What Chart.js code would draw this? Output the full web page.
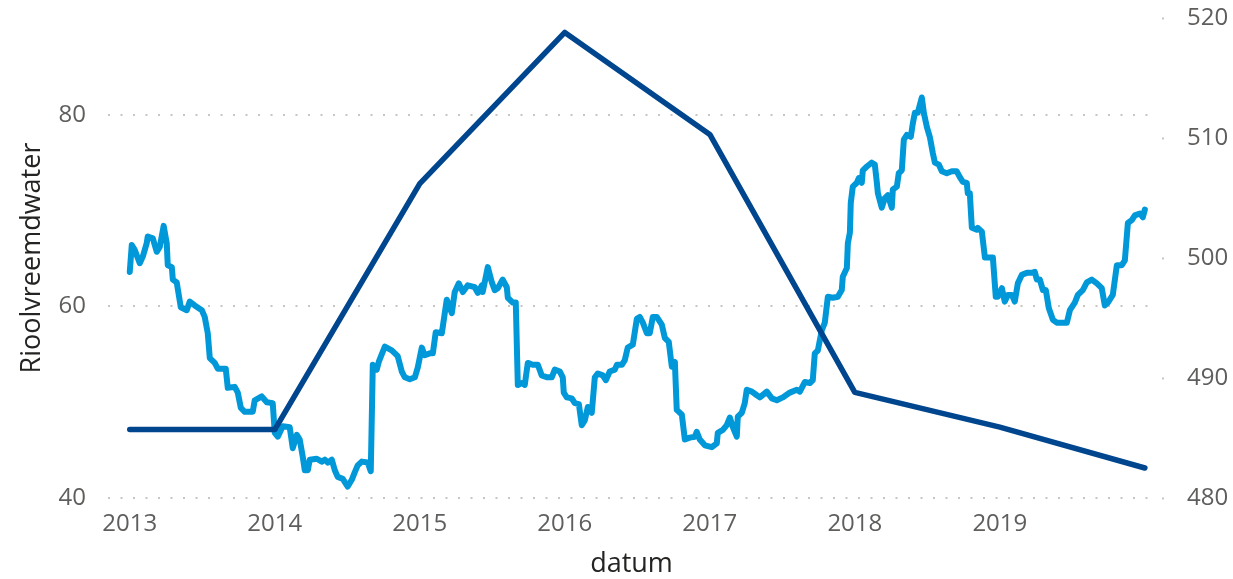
<!DOCTYPE html>
<html>
<head>
<meta charset="utf-8">
<title>Rioolvreemdwater</title>
<script src="https://cdn.jsdelivr.net/npm/chart.js@4/dist/chart.umd.min.js"></script>
<style>
    html, body { margin: 0; padding: 0; background: #fff; }
    #wrap { width: 1233px; height: 579px; position: relative; }
</style>
</head>
<body>
<div id="wrap"><canvas id="chart"></canvas></div>
<script>
// Rioolvreemdwater (linker as), datum als decimaal jaar
const jarenRvw = [
    2013.000, 2013.014, 2013.034, 2013.069, 2013.090, 2013.117, 2013.124, 2013.159, 2013.186, 2013.207,
    2013.234, 2013.255, 2013.262, 2013.290, 2013.297, 2013.324, 2013.338, 2013.352, 2013.393, 2013.414,
    2013.448, 2013.497, 2013.517, 2013.538, 2013.552, 2013.586, 2013.607, 2013.662, 2013.676, 2013.724,
    2013.745, 2013.766, 2013.793, 2013.848, 2013.862, 2013.910, 2013.945, 2013.986, 2014.000, 2014.021,
    2014.055, 2014.103, 2014.124, 2014.152, 2014.172, 2014.193, 2014.207, 2014.228, 2014.241, 2014.290,
    2014.324, 2014.345, 2014.366, 2014.393, 2014.414, 2014.434, 2014.469, 2014.503, 2014.531, 2014.552,
    2014.572, 2014.600, 2014.641, 2014.662, 2014.676, 2014.703, 2014.717, 2014.759, 2014.807, 2014.848,
    2014.876, 2014.897, 2014.931, 2014.966, 2014.986, 2015.014, 2015.034, 2015.069, 2015.090, 2015.110,
    2015.152, 2015.186, 2015.221, 2015.241, 2015.269, 2015.297, 2015.331, 2015.379, 2015.400, 2015.428,
    2015.434, 2015.469, 2015.497, 2015.517, 2015.538, 2015.572, 2015.600, 2015.607, 2015.641, 2015.662,
    2015.676, 2015.703, 2015.724, 2015.745, 2015.779, 2015.814, 2015.841, 2015.876, 2015.910, 2015.931,
    2015.966, 2015.986, 2015.993, 2016.014, 2016.048, 2016.069, 2016.097, 2016.117, 2016.138, 2016.159,
    2016.186, 2016.207, 2016.228, 2016.262, 2016.283, 2016.310, 2016.345, 2016.359, 2016.393, 2016.414,
    2016.434, 2016.469, 2016.497, 2016.517, 2016.538, 2016.566, 2016.586, 2016.607, 2016.634, 2016.669,
    2016.690, 2016.717, 2016.738, 2016.759, 2016.772, 2016.807, 2016.828, 2016.862, 2016.897, 2016.910,
    2016.931, 2016.966, 2017.014, 2017.048, 2017.055, 2017.090, 2017.117, 2017.138, 2017.159, 2017.186,
    2017.193, 2017.221, 2017.241, 2017.255, 2017.290, 2017.317, 2017.345, 2017.393, 2017.428, 2017.462,
    2017.503, 2017.552, 2017.600, 2017.621, 2017.655, 2017.690, 2017.710, 2017.724, 2017.745, 2017.772,
    2017.793, 2017.814, 2017.848, 2017.883, 2017.910, 2017.917, 2017.945, 2017.952, 2017.966, 2017.972,
    2017.986, 2018.014, 2018.028, 2018.048, 2018.055, 2018.083, 2018.117, 2018.138, 2018.152, 2018.159,
    2018.186, 2018.207, 2018.228, 2018.255, 2018.262, 2018.290, 2018.303, 2018.324, 2018.338, 2018.359,
    2018.386, 2018.400, 2018.414, 2018.434, 2018.462, 2018.476, 2018.497, 2018.517, 2018.538, 2018.552,
    2018.579, 2018.600, 2018.634, 2018.669, 2018.703, 2018.724, 2018.745, 2018.772, 2018.779, 2018.793,
    2018.807, 2018.841, 2018.848, 2018.876, 2018.897, 2018.952, 2018.972, 2018.986, 2019.014, 2019.034,
    2019.055, 2019.083, 2019.103, 2019.124, 2019.152, 2019.186, 2019.221, 2019.241, 2019.255, 2019.276,
    2019.297, 2019.317, 2019.338, 2019.366, 2019.393, 2019.462, 2019.483, 2019.517, 2019.538, 2019.572,
    2019.600, 2019.634, 2019.669, 2019.703, 2019.724, 2019.745, 2019.779, 2019.807, 2019.841, 2019.862,
    2019.883, 2019.910, 2019.931, 2019.966, 2019.986, 2020.000
];
const waardenRvw = [
    63.6, 66.4, 65.9, 64.5, 65.2, 66.6, 67.3, 67.1, 65.7, 66.2,
    68.4, 66.6, 64.3, 64.1, 62.8, 62.5, 61.2, 59.9, 59.6, 60.5,
    60.1, 59.6, 58.9, 57.2, 54.6, 54.1, 53.5, 53.5, 51.5, 51.6,
    51.0, 49.4, 49.0, 49.0, 50.2, 50.6, 50.0, 49.9, 46.8, 46.4,
    47.5, 47.4, 45.2, 46.6, 46.1, 44.3, 42.9, 42.9, 44.0, 44.1,
    43.8, 44.0, 43.7, 44.0, 42.9, 42.2, 42.0, 41.2, 41.9, 42.7,
    43.4, 43.8, 43.7, 42.8, 53.9, 53.4, 54.2, 55.8, 55.4, 54.8,
    53.2, 52.6, 52.4, 52.6, 53.6, 55.7, 54.9, 55.1, 55.1, 57.3,
    57.2, 60.7, 59.3, 61.5, 62.4, 61.5, 62.2, 62.0, 61.4, 62.2,
    61.5, 64.1, 62.5, 61.7, 61.9, 62.8, 62.0, 60.9, 60.4, 60.4,
    51.8, 52.0, 51.8, 54.1, 53.9, 53.9, 52.8, 52.6, 52.6, 53.4,
    53.2, 52.6, 51.0, 50.5, 50.4, 49.9, 49.8, 47.6, 48.1, 49.5,
    48.9, 52.6, 53.0, 52.8, 52.3, 53.2, 53.4, 53.9, 53.9, 54.4,
    55.7, 56.0, 58.7, 58.9, 58.3, 57.2, 57.2, 58.9, 58.9, 58.1,
    56.7, 56.3, 53.7, 54.2, 49.2, 48.7, 46.1, 46.3, 46.4, 46.9,
    46.1, 45.5, 45.3, 45.7, 46.8, 47.1, 47.6, 48.4, 47.4, 46.4,
    48.5, 48.9, 49.9, 51.3, 51.1, 50.8, 50.5, 51.1, 50.4, 50.2,
    50.5, 51.0, 51.3, 51.1, 52.1, 52.0, 52.3, 55.1, 55.4, 57.5,
    58.3, 61.0, 60.9, 61.0, 61.7, 63.1, 64.0, 66.6, 67.7, 70.8,
    72.5, 72.9, 73.4, 72.9, 74.2, 74.6, 75.0, 74.8, 72.9, 71.8,
    70.3, 71.3, 71.6, 70.3, 72.2, 72.5, 73.9, 74.2, 77.4, 77.9,
    77.7, 79.1, 80.2, 80.2, 81.8, 80.2, 78.7, 77.7, 76.0, 75.0,
    74.8, 74.1, 73.9, 74.1, 74.1, 73.5, 73.0, 72.9, 71.8, 71.8,
    68.2, 68.0, 68.2, 67.8, 65.1, 65.1, 61.0, 61.0, 61.9, 60.5,
    61.2, 61.2, 60.5, 62.4, 63.3, 63.5, 63.5, 63.6, 62.8, 62.8,
    61.7, 61.7, 59.8, 58.6, 58.3, 58.3, 59.6, 60.4, 61.2, 61.7,
    62.5, 62.8, 62.4, 61.9, 60.1, 60.4, 61.2, 64.3, 64.3, 64.8,
    68.7, 69.0, 69.5, 69.7, 69.3, 70.1
];

// jaarwaarden (rechter as)
const jarenJaarlijks = [2013, 2014, 2015, 2016, 2017, 2018, 2019, 2020];
const waardenJaarlijks = [485.7, 485.7, 506.2, 518.8, 510.3, 488.8, 485.9, 482.5];

const xTicks = [2013, 2014, 2015, 2016, 2017, 2018, 2019];
const linksTicks = [40, 60, 80];
const rechtsTicks = [480, 490, 500, 510, 520];

const tekstGrijs = '#605E5C';
const titelKleur = '#252423';
Chart.defaults.font.family = "'Segoe UI', 'Open Sans', sans-serif";

function toPoints(xs, ys) {
    return xs.map((x, i) => ({ x: x, y: ys[i] }));
}

// labels van y-assen mogen boven/onder het plotvlak uitsteken
function geenExtraPadding(scale, breedte) {
    scale.width = breedte;
    scale.paddingTop = 0;
    scale.paddingBottom = 0;
}

const ctx = document.getElementById('chart').getContext('2d');
new Chart(ctx, {
    type: 'line',
    data: {
        datasets: [{
            label: 'Jaarlijks',
            data: toPoints(jarenJaarlijks, waardenJaarlijks),
            yAxisID: 'y1',
            borderColor: '#00468E',
            borderWidth: 5.5,
            pointRadius: 0,
            tension: 0,
            borderJoinStyle: 'round',
            borderCapStyle: 'round',
            order: 0
        }, {
            label: 'Rioolvreemdwater',
            data: toPoints(jarenRvw, waardenRvw),
            yAxisID: 'y',
            borderColor: '#0098D8',
            borderWidth: 6,
            pointRadius: 0,
            tension: 0,
            borderJoinStyle: 'round',
            borderCapStyle: 'round',
            order: 1
        }]
    },
    options: {
        responsive: true,
        maintainAspectRatio: false,
        animation: false,
        layout: { padding: { top: 18, left: 0, right: 0, bottom: 0 } },
        plugins: {
            legend: { display: false },
            tooltip: { enabled: false }
        },
        scales: {
            x: {
                type: 'linear',
                min: 2012.85,
                max: 2020.07,
                grid: { display: false },
                border: { display: false },
                afterBuildTicks: function(scale) {
                    scale.ticks = xTicks.map(v => ({ value: v }));
                },
                afterFit: function(scale) { scale.height = 81; },
                ticks: {
                    color: tekstGrijs,
                    font: { size: 24 },
                    padding: 4,
                    maxRotation: 0,
                    callback: v => String(v)
                },
                title: {
                    display: true,
                    text: 'datum',
                    color: titelKleur,
                    font: { size: 27 },
                    padding: { top: 0, bottom: -2 }
                }
            },
            y: {
                type: 'linear',
                position: 'left',
                min: 40,
                max: 90.1,
                afterBuildTicks: function(scale) {
                    scale.ticks = linksTicks.map(v => ({ value: v }));
                },
                afterFit: function(scale) { geenExtraPadding(scale, 108); },
                grid: {
                    color: '#C8C6C4',
                    lineWidth: 2,
                    drawTicks: false
                },
                border: { display: false, dash: [2, 10.5] },
                ticks: {
                    color: tekstGrijs,
                    font: { size: 24 },
                    padding: 22
                },
                title: {
                    display: true,
                    text: 'Rioolvreemdwater',
                    color: titelKleur,
                    font: { size: 27 },
                    padding: { top: 16, bottom: 0 }
                }
            },
            y1: {
                type: 'linear',
                position: 'right',
                min: 480,
                max: 520,
                afterBuildTicks: function(scale) {
                    scale.ticks = rechtsTicks.map(v => ({ value: v }));
                },
                afterFit: function(scale) { geenExtraPadding(scale, 78); },
                grid: {
                    drawOnChartArea: false,
                    drawTicks: true,
                    tickLength: 9,
                    tickWidth: 2,
                    tickColor: '#C8C6C4',
                    tickBorderDash: [0, 7, 2, 100]
                },
                border: { display: false },
                ticks: {
                    color: tekstGrijs,
                    font: { size: 24 },
                    padding: 23
                }
            }
        }
    }
});
</script>
</body>
</html>
